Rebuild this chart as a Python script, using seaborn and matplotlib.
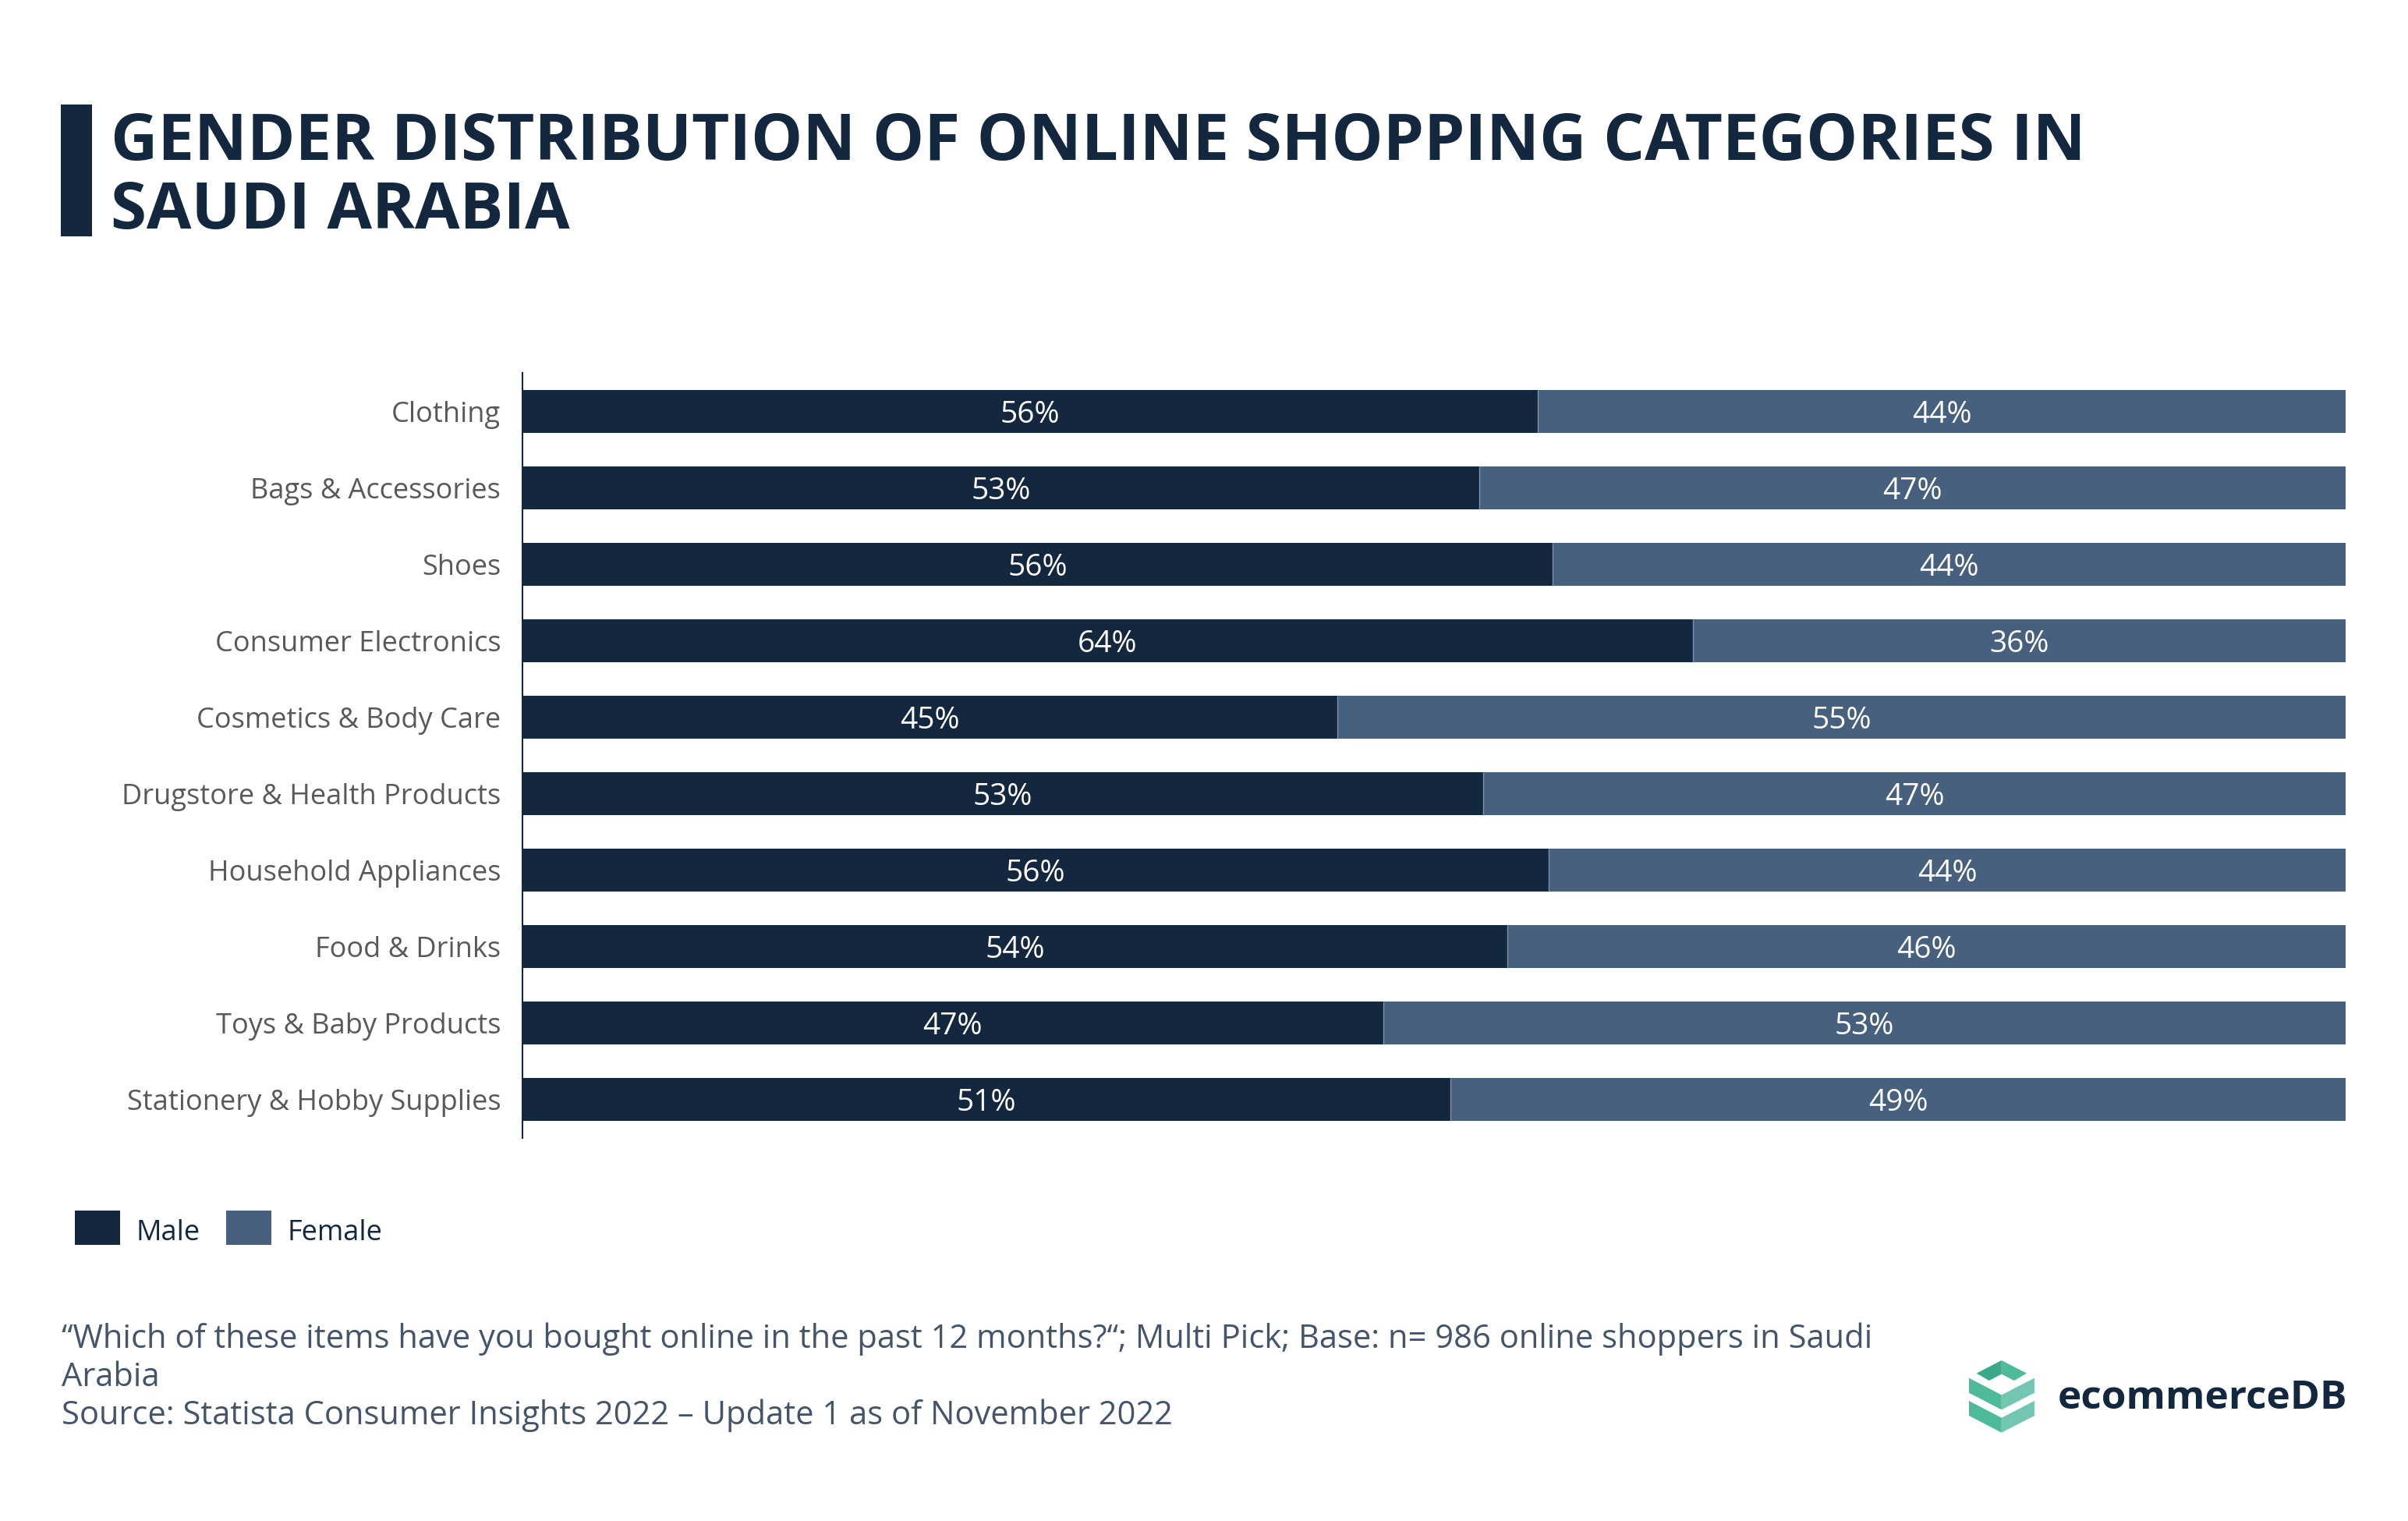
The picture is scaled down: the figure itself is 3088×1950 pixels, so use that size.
import matplotlib
matplotlib.use("Agg")
import matplotlib.pyplot as plt
import seaborn as sns
import pandas as pd
from matplotlib.patches import Rectangle, Polygon

# ---------------- data ----------------
categories = [
    "Clothing",
    "Bags & Accessories",
    "Shoes",
    "Consumer Electronics",
    "Cosmetics & Body Care",
    "Drugstore & Health Products",
    "Household Appliances",
    "Food & Drinks",
    "Toys & Baby Products",
    "Stationery & Hobby Supplies",
]
male_share = [55.7, 52.5, 56.5, 64.2, 44.7, 52.7, 56.3, 54.0, 47.2, 50.9]
male_labels = ["56%", "53%", "56%", "64%", "45%", "53%", "56%", "54%", "47%", "51%"]
female_labels = ["44%", "47%", "44%", "36%", "55%", "47%", "44%", "46%", "53%", "49%"]
series_names = ["Male", "Female"]

title_lines = ["GENDER DISTRIBUTION OF ONLINE SHOPPING CATEGORIES IN", "SAUDI ARABIA"]
footnote_lines = [
    "\u201cWhich of these items have you bought online in the past 12 months?\u201c; Multi Pick; Base: n= 986 online shoppers in Saudi",
    "Arabia",
    "Source: Statista Consumer Insights 2022 \u2013 Update 1 as of November 2022",
]

# ---------------- style ----------------
MALE = "#13273F"
FEMALE = "#47607D"
SEP = "#7D92AC"
NAVY = "#13273F"
LABEL_GREY = "#595959"
FOOT = "#44546A"

W, H = 3088, 1950

sns.set_theme(style="white")
plt.rcParams["font.family"] = ["Open Sans", "DejaVu Sans"]

fig = plt.figure(figsize=(W / 100, H / 100), dpi=100)
fig.patch.set_facecolor("white")


def fx(px):
    return px / W


def fy(py):
    return 1 - py / H


ax_left, ax_right, ax_top, ax_bottom = 670, 3008, 478, 1459
ax = fig.add_axes([fx(ax_left), fy(ax_bottom), fx(ax_right - ax_left), (ax_bottom - ax_top) / H])

df = pd.DataFrame({"category": categories, "male": male_share})
df["total"] = 100.0

bar_w = 0.56
sns.barplot(data=df, y="category", x="total", color=FEMALE, saturation=1,
            width=bar_w, orient="h", ax=ax, linewidth=0, errorbar=None)
sns.barplot(data=df, y="category", x="male", color=MALE, saturation=1,
            width=bar_w, orient="h", ax=ax, linewidth=0, errorbar=None)

ax.vlines(df["male"], [i - bar_w / 2 for i in range(len(df))],
          [i + bar_w / 2 for i in range(len(df))], color=SEP, lw=1.0, zorder=5)

for i, (m, ml, fl) in enumerate(zip(male_share, male_labels, female_labels)):
    ax.text(m / 2, i, ml, ha="center", va="center_baseline", color="white", fontsize=28)
    ax.text((m + 100) / 2, i, fl, ha="center", va="center_baseline", color="white", fontsize=28)

ax.set_xlim(0, 100)
ax.set_ylim(len(categories) - 0.5, -0.5)
ax.set_xlabel("")
ax.set_ylabel("")
ax.set_xticks([])
ax.tick_params(axis="y", length=0, pad=20, labelsize=26, labelcolor=LABEL_GREY)
for s in ["top", "right", "bottom"]:
    ax.spines[s].set_visible(False)
ax.spines["left"].set_color(NAVY)
ax.spines["left"].set_linewidth(1.5)

# ---------------- title ----------------
fig.add_artist(Rectangle((fx(78), fy(303)), fx(40), (303 - 134) / H,
                         transform=fig.transFigure, color=NAVY, lw=0))
fig.text(fx(142), fy(205), title_lines[0], fontsize=60, fontweight="bold",
         color=NAVY, va="baseline", ha="left")
fig.text(fx(142), fy(293), title_lines[1], fontsize=60, fontweight="bold",
         color=NAVY, va="baseline", ha="left")

# ---------------- legend ----------------
leg_items = [(96, MALE, 174), (290, FEMALE, 368)]
for (x0, col, tx), name in zip(leg_items, series_names):
    fig.add_artist(Rectangle((fx(x0), fy(1596)), fx(58), 44 / H,
                             transform=fig.transFigure, color=col, lw=0))
    fig.text(fx(tx), fy(1590), name, fontsize=26, color=NAVY, va="baseline", ha="left")

# ---------------- footnote ----------------
for line, base in zip(footnote_lines, [1728, 1777, 1826]):
    fig.text(fx(79), fy(base), line, fontsize=30, color=FOOT, va="baseline", ha="left")

# ---------------- logo ----------------
def lp(x, y):
    return (fx(2500 + x / 2.8), fy(1720 + y / 3))


def poly(pts, col):
    fig.add_artist(Polygon([lp(*p) for p in pts], closed=True, transform=fig.transFigure,
                           facecolor=col, edgecolor="none"))


G1, G2, G3 = "#4DBB99", "#73C6B1", "#3AA98B"
poly([(97, 122), (187, 72), (187, 125), (142, 150)], G3)
poly([(187, 72), (277, 122), (232, 150), (187, 125)], G1)
for off in (0, 88):
    poly([(70, 140 + off), (187, 205 + off), (187, 262 + off), (70, 197 + off)], G1)
    poly([(187, 205 + off), (305, 140 + off), (305, 197 + off), (187, 262 + off)], G2)

fig.text(fx(2639), fy(1806), "ecommerceDB", fontsize=37, fontweight="bold",
         color=NAVY, va="baseline", ha="left")

fig.savefig("out.png", dpi=100, facecolor="white")
